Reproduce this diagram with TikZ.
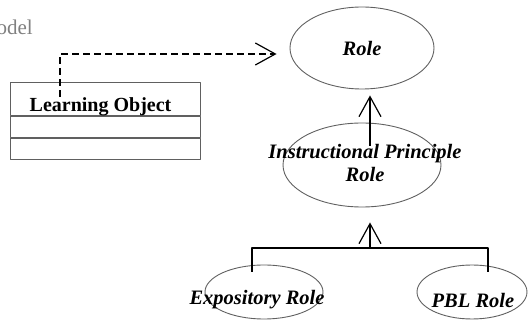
\documentclass[tikz,border=0pt]{standalone}
\usepackage{fontspec}
\setmainfont{Liberation Serif}
\usetikzlibrary{shapes.geometric,positioning,arrows.meta}
\tikzset{
  usecase/.style={draw=gray!75!black, line width=0.9pt, ellipse, inner sep=0pt},
  classpart/.style={draw=gray!75!black, line width=1pt, rectangle, minimum width=190pt, inner sep=0pt},
  rolename/.style={font=\fontsize{20.5}{23}\selectfont\bfseries\itshape, inner sep=0pt},
  gen/.style={-{Straight Barb[length=20pt,width=22pt]}, line width=1.2pt},
}
\begin{document}
\begin{tikzpicture}[x=1pt,y=-1pt, line join=round]
\useasboundingbox (0,0) rectangle (531,320);
\clip (0,0) rectangle (531,320);
% title, cut at the left edge
\node[anchor=base east, text=gray, font=\fontsize{21}{24}\selectfont, inner sep=0pt] (title) at (33,35) {Model};
% class box
\node[classpart, minimum height=33pt] (lo) at (105,99.5) {};
\node[classpart, minimum height=21pt, below=0pt of lo] (loattr) {};
\node[classpart, minimum height=21pt, below=0pt of loattr] (loops) {};
\node[font=\fontsize{20}{22}\selectfont\bfseries, inner sep=0pt, anchor=base] (lotext) at (100.5,112) {Learning Object};
% roles
\node[usecase, minimum width=144pt, minimum height=82pt] (role) at (362,48) {};
\node[rolename] (roletext) at (role) {Role};
\node[usecase, minimum width=158pt, minimum height=84pt] (ipr) at (362,165) {};
\node[rolename, align=center] (iprtext) at (365,163) {Instructional Principle\\Role};
\node[usecase, minimum width=118pt, minimum height=54pt] (expo) at (264,292) {};
\node[rolename] (expotext) at (257,300) {Expository Role};
\node[usecase, minimum width=110pt, minimum height=54pt] (pbl) at (472,292) {};
\node[rolename] (pbltext) at (473,300) {PBL Role};
% connectors
\coordinate (dep) at (60,97);
\coordinate (fork) at (370,248);
\draw[-{Straight Barb[length=20pt,width=22pt]}, line width=1.2pt, dash pattern=on 7pt off 4pt] (dep) |- ([shift={(-13,6)}]role.west);
\draw[gen] ([shift={(8,23)}]ipr.north) -- ([shift={(8,6)}]role.south);
\draw[gen] (fork) -- ([shift={(8,15)}]ipr.south);
\draw[line width=1.2pt] ([shift={(-12,7)}]expo.north) |- (fork) -| ([shift={(16,7)}]pbl.north);
\end{tikzpicture}
\end{document}
